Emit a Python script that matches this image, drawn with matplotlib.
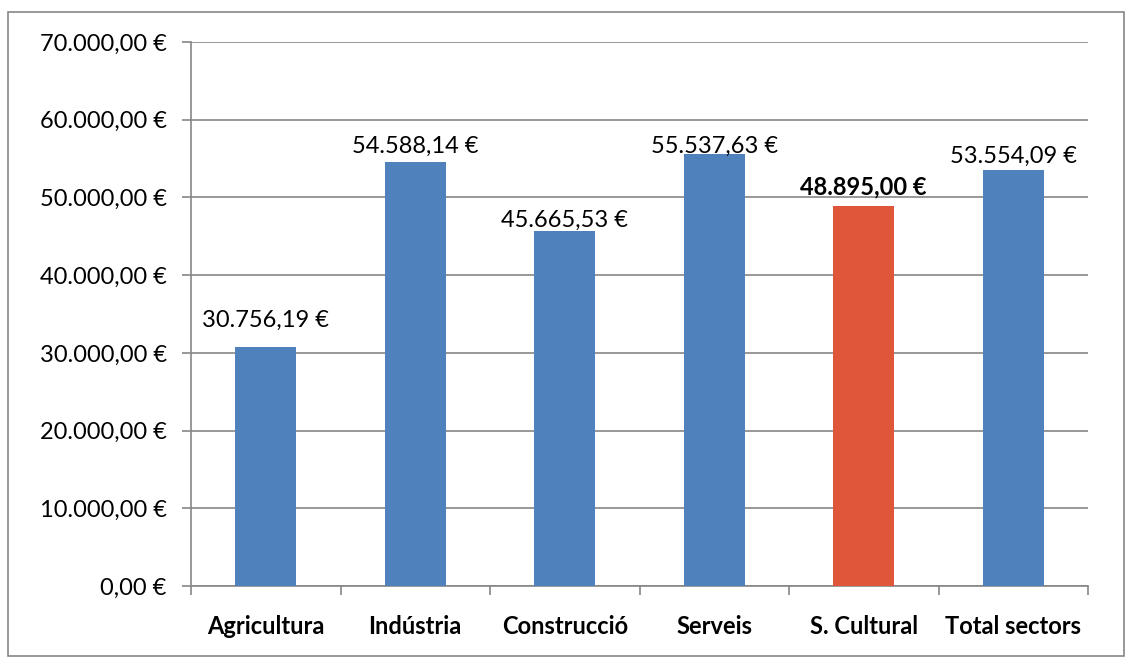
import matplotlib
matplotlib.use("Agg")
import matplotlib.pyplot as plt
from matplotlib.patches import Rectangle
from matplotlib.ticker import FuncFormatter, MultipleLocator, FixedLocator

categories = ["Agricultura", "Indústria", "Construcció", "Serveis", "S. Cultural", "Total sectors"]
values = [30756.19, 54588.14, 45665.53, 55537.63, 48895.00, 53554.09]
colors = ["#4F81BD", "#4F81BD", "#4F81BD", "#4F81BD", "#E0563B", "#4F81BD"]
highlight = "S. Cultural"
# style: gap between bar top and label baseline (pixels)
label_gap_px = [20, 9, 4, 2, 12, 7]

plt.rcParams['font.family'] = ['Lato', 'DejaVu Sans']

def eur(v, pos=None):
    s = f"{v:,.2f}"
    s = s.replace(",", "X").replace(".", ",").replace("X", ".")
    return s + " €"

W, H = 1132, 666
fig = plt.figure(figsize=(W/100, H/100), dpi=100)
fig.patches.append(Rectangle((8/W, 1-656/H), (1124-8)/W, (656-12)/H, transform=fig.transFigure,
                             fill=False, edgecolor="#868686", linewidth=1.2))
ax = fig.add_axes([191/W, 1-586/H, (1088-191)/W, (586-42)/H])

FS = 17
x = list(range(len(categories)))
bars = ax.bar(x, values, width=0.41, color=colors, zorder=3)
ax.set_xlim(-0.5, len(categories)-0.5)
ax.set_ylim(0, 70000)
ax.yaxis.set_major_locator(MultipleLocator(10000))
ax.yaxis.set_major_formatter(FuncFormatter(eur))
ax.grid(axis='y', color="#868686", linewidth=1.2, zorder=0)
ax.set_xticks(x)
ax.set_xticklabels(categories, fontsize=FS, fontweight='bold')
ax.tick_params(axis='x', length=0, pad=21)
ax.xaxis.set_minor_locator(FixedLocator([i - 0.5 for i in range(len(categories)+1)]))
ax.tick_params(axis='x', which='minor', length=6.5, color="#868686", width=1.2)
ax.tick_params(axis='y', length=6.5, color="#868686", width=1.2, labelsize=FS, pad=11)
for side in ['top', 'right']:
    ax.spines[side].set_visible(False)
for side in ['left', 'bottom']:
    ax.spines[side].set_color("#868686")
    ax.spines[side].set_linewidth(1.2)

for xi, v, c, g in zip(x, values, categories, label_gap_px):
    ax.annotate(eur(v), (xi, v), xytext=(0, g*0.72), textcoords='offset points', ha='center', va='baseline',
                fontsize=FS, fontweight='bold' if c == highlight else 'normal')

fig.savefig("out.png", dpi=100)
